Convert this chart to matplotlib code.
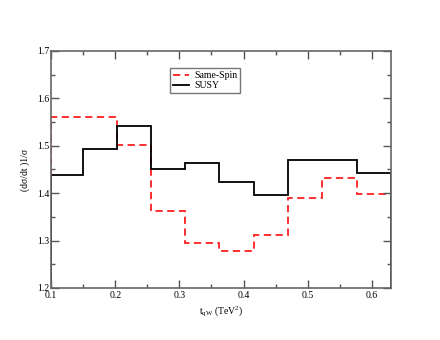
#plot.py - step histogram comparison of Same-Spin vs SUSY in t_qW
import numpy as np
import matplotlib
matplotlib.use('Agg')
import matplotlib.pyplot as plt

# bin edges and heights
bin_edges = [0.1, 0.1495, 0.2025, 0.256, 0.3095, 0.3625, 0.416, 0.4695, 0.5225, 0.576, 0.63]
same_spin = [1.560, 1.560, 1.501, 1.363, 1.295, 1.277, 1.312, 1.389, 1.431, 1.398]
susy = [1.438, 1.494, 1.542, 1.450, 1.464, 1.424, 1.396, 1.469, 1.469, 1.442]

x_ticks = [0.1, 0.2, 0.3, 0.4, 0.5, 0.6]
y_ticks = [1.2, 1.3, 1.4, 1.5, 1.6, 1.7]

plt.rcParams['font.family'] = ['Liberation Serif', 'DejaVu Serif']
plt.rcParams['mathtext.fontset'] = 'stix'

fig = plt.figure(figsize=(4.4, 3.4), dpi=100)
ax = fig.add_axes([0.116, 0.153, 0.773, 0.697])

ax.stairs(same_spin, bin_edges, color='#ff2020', linestyle=(0, (4, 2.5)),
          linewidth=1.3, label='Same-Spin')
ax.stairs(susy, bin_edges, color='black', linewidth=1.3, label='SUSY')

ax.set_xlim(0.1, 0.63)
ax.set_ylim(1.2, 1.7)
ax.set_xticks(x_ticks)
ax.set_yticks(y_ticks)
ax.set_xticks(np.arange(0.15, 0.63, 0.1), minor=True)
ax.set_yticks(np.arange(1.25, 1.7, 0.1), minor=True)
ax.set_xticklabels([f'{v:.1f}' for v in x_ticks])
ax.set_yticklabels([f'{v:.1f}' for v in y_ticks])

ax.tick_params(which='both', direction='in', top=True, right=True,
               colors='#555555', labelcolor='black', labelsize=7, width=1.0)
ax.tick_params(which='major', length=6, pad=1)
ax.tick_params(axis='x', which='major', pad=2.5)
ax.tick_params(which='minor', length=3)
for s in ax.spines.values():
    s.set_color('#666666')
    s.set_linewidth(1.2)

ax.set_xlabel(r'$\mathregular{t_{qW}}$ (TeV$\mathregular{^2}$)', fontsize=7, labelpad=3)
ax.set_ylabel('(dσ/dt )1/σ', fontsize=7, labelpad=5)

leg = ax.legend(loc='upper left', bbox_to_anchor=(0.35, 0.928), fontsize=7,
                frameon=True, fancybox=False, edgecolor='#555555',
                handlelength=1.6, handletextpad=0.6, borderpad=0.3,
                labelspacing=0.15, borderaxespad=0)
leg.get_frame().set_linewidth(1.0)

plt.savefig('out.png', dpi=100)
